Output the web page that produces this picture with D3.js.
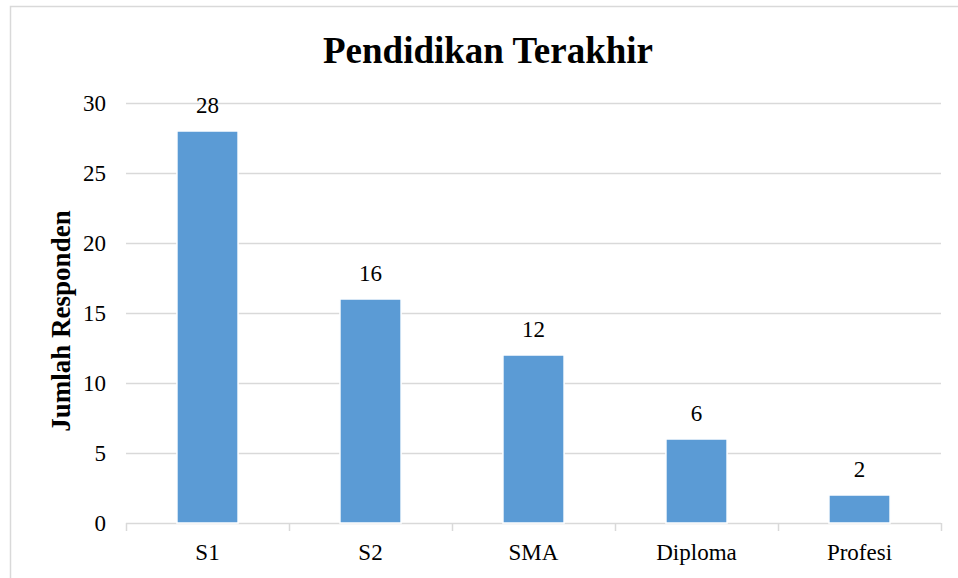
<!DOCTYPE html>
<html lang="en">
<head>
    <meta charset="UTF-8">
    <title>Pendidikan Terakhir</title>
    <script src="https://d3js.org/d3.v7.min.js"></script>
    <style>
        body { margin: 0; background: #fff; }
        svg { display: block; }
    </style>
</head>
<body>
    <div id="chart"></div>

    <script>
        // Data
        const categories = ["S1", "S2", "SMA", "Diploma", "Profesi"];
        const values = [28, 16, 12, 6, 2];
        const yTicks = [0, 5, 10, 15, 20, 25, 30];

        const serif = "'Liberation Serif', 'Times New Roman', Times, 'DejaVu Serif', serif";

        const W = 958, H = 578;
        const margin = {top: 103, right: 17, bottom: 55, left: 126};
        const width = W - margin.left - margin.right;
        const height = H - margin.top - margin.bottom;

        const svg = d3.select("#chart")
                      .append("svg")
                      .attr("width", W)
                      .attr("height", H)
                      .attr("font-family", serif);

        // Outer chart border (runs past the right and bottom edges)
        svg.append("rect")
           .attr("x", 10.5)
           .attr("y", 6.5)
           .attr("width", 1000)
           .attr("height", 1000)
           .attr("fill", "none")
           .attr("stroke", "#d9d9d9")
           .attr("stroke-width", 1.5);

        const g = svg.append("g")
                     .attr("transform", `translate(${margin.left},${margin.top})`);

        // Scales
        const xScale = d3.scaleBand()
                         .domain(categories)
                         .range([0, width])
                         .paddingInner(0.625)
                         .paddingOuter(0.3125);

        const yScale = d3.scaleLinear()
                         .domain([0, 30])
                         .range([height, 0]);

        // Gridlines
        g.append("g")
         .selectAll("line")
         .data(yTicks.filter(d => d > 0))
         .enter()
         .append("line")
         .attr("x1", 0)
         .attr("x2", width)
         .attr("y1", d => yScale(d) + 0.5)
         .attr("y2", d => yScale(d) + 0.5)
         .attr("stroke", "#d9d9d9")
         .attr("stroke-width", 1.5);

        // Y axis labels (no axis line)
        const yAxis = g.append("g")
                       .call(d3.axisLeft(yScale).tickValues(yTicks).tickSize(0).tickPadding(20))
                       .attr("font-family", serif)
                       .attr("font-size", 23);
        yAxis.select(".domain").remove();
        yAxis.selectAll("text")
             .style("font-family", serif)
             .attr("fill", "#000");

        // X axis with category dividers
        const step = xScale.step();
        const xAxis = g.append("g")
                       .attr("transform", `translate(0,${height})`);
        xAxis.append("line")
             .attr("x1", 0).attr("x2", width)
             .attr("y1", 0.5).attr("y2", 0.5)
             .attr("stroke", "#d9d9d9")
             .attr("stroke-width", 1.5);
        xAxis.selectAll(".div")
             .data(d3.range(categories.length + 1))
             .enter()
             .append("line")
             .attr("x1", i => i * step + 0.5)
             .attr("x2", i => i * step + 0.5)
             .attr("y1", 0)
             .attr("y2", 8)
             .attr("stroke", "#d9d9d9")
             .attr("stroke-width", 1.5);
        xAxis.selectAll(".lbl")
             .data(categories)
             .enter()
             .append("text")
             .attr("x", d => xScale(d) + xScale.bandwidth() / 2)
             .attr("y", 37)
             .attr("text-anchor", "middle")
             .style("font-family", serif)
             .style("font-size", "23px")
             .text(d => d);

        // Bars
        g.selectAll(".bar")
         .data(categories)
         .enter()
         .append("rect")
         .attr("class", "bar")
         .attr("x", d => xScale(d))
         .attr("y", (d, i) => yScale(values[i]))
         .attr("width", xScale.bandwidth())
         .attr("height", (d, i) => height - yScale(values[i]))
         .attr("fill", "#5b9bd5")
         .attr("stroke", "#fff")
         .attr("stroke-width", 1.5);

        // Value labels
        g.selectAll(".val")
         .data(categories)
         .enter()
         .append("text")
         .attr("x", d => xScale(d) + xScale.bandwidth() / 2)
         .attr("y", (d, i) => yScale(values[i]) - 18)
         .attr("text-anchor", "middle")
         .style("font-family", serif)
         .style("font-size", "23px")
         .text((d, i) => values[i]);

        // Title
        svg.append("text")
           .attr("x", 488)
           .attr("y", 63)
           .attr("text-anchor", "middle")
           .style("font-family", serif)
           .style("font-size", "37px")
           .style("font-weight", "bold")
           .text("Pendidikan Terakhir");

        // Y axis title
        svg.append("text")
           .attr("transform", `translate(70,${margin.top + height / 2 + 8}) rotate(-90)`)
           .attr("text-anchor", "middle")
           .style("font-family", serif)
           .style("font-size", "27px")
           .style("font-weight", "bold")
           .text("Jumlah Responden");
    </script>
</body>
</html>
